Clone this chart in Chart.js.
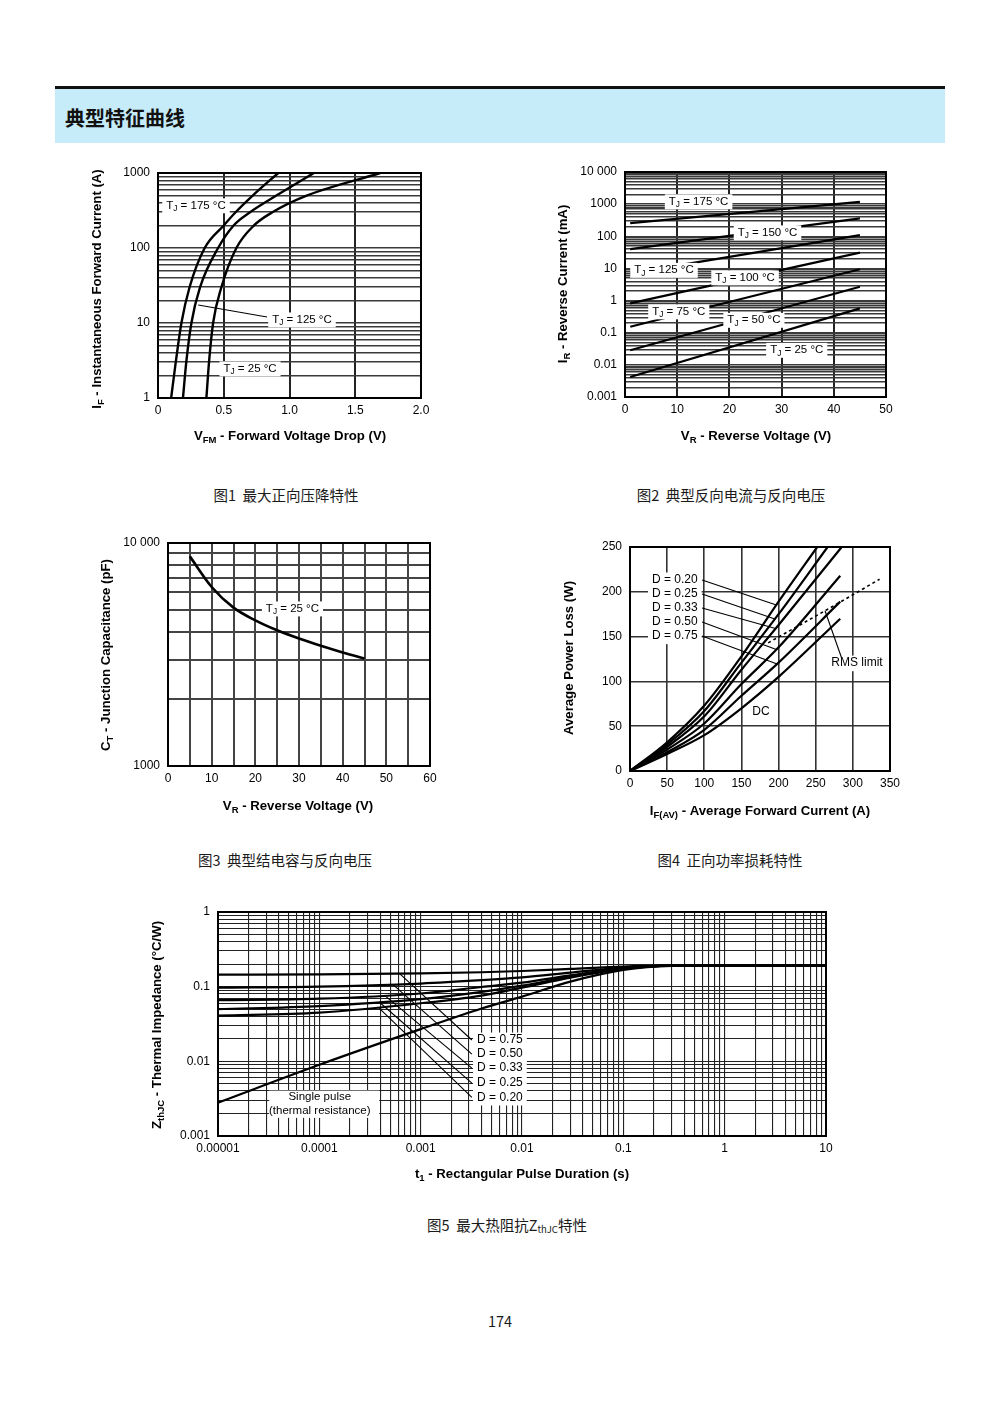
<!DOCTYPE html>
<html>
<head>
<meta charset="utf-8">
<title>典型特征曲线</title>
<script src="https://cdn.jsdelivr.net/npm/chart.js"></script>
<style>
  body { margin: 0; background: #fff; }
  #page { position: relative; width: 1000px; height: 1414px; overflow: hidden; font-family: "Noto Sans CJK SC", sans-serif; color: #1a1a1a; }
  .rule { position: absolute; left: 55px; top: 86px; width: 890px; height: 3px; background: #111; }
  .band { position: absolute; left: 55px; top: 89px; width: 890px; height: 54px; background: #c6ecf9; }
  .band h1 { margin: 0; position: absolute; left: 10px; top: 2px; line-height: 54px; font-size: 20px; font-weight: 700; color: #111; }
  .fig { position: absolute; }
  .cap { position: absolute; font-size: 14.5px; line-height: 20px; transform: translateX(-50%); white-space: pre; }
  .cap sub { font-size: 9.5px; vertical-align: -2px; }
</style>
</head>
<body>
<div id="page">
  <div class="rule"></div>
  <div class="band"><h1>典型特征曲线</h1></div>

  <div class="fig" id="fig1"></div>
  <div class="fig" id="fig2"></div>
  <div class="fig" id="fig3"></div>
  <div class="fig" id="fig4"></div>
  <div class="fig" id="fig5"></div>

  <div class="cap" style="left:286px; top:485px;">图1  最大正向压降特性</div>
  <div class="cap" style="left:731px; top:485px;">图2  典型反向电流与反向电压</div>
  <div class="cap" style="left:285px; top:850px;">图3  典型结电容与反向电压</div>
  <div class="cap" style="left:730px; top:850px;">图4  正向功率损耗特性</div>
  <div class="cap" style="left:507px; top:1215px;">图5  最大热阻抗Z<sub>thJC</sub>特性</div>
  <div class="cap" style="left:500px; top:1311px;">174</div>
</div>

<script>
// ---------------- data ----------------

// Fig.1  forward current (A) vs forward voltage (V)
const ifPts   = [1, 3, 10, 30, 100, 200, 300, 500, 1000];
const vfTj175 = [0.10, 0.135, 0.178, 0.24, 0.355, 0.50, 0.59, 0.72, 0.914];
const vfTj125 = [0.19, 0.215, 0.254, 0.32, 0.457, 0.575, 0.70, 0.90, 1.185];
const vfTj25  = [0.368, 0.388, 0.419, 0.482, 0.596, 0.73, 0.87, 1.13, 1.69];
const fig1XTicks = [0, 0.5, 1, 1.5, 2];
const fig1XLabels = ['0', '0.5', '1.0', '1.5', '2.0'];
const fig1YTicks = [1, 10, 100, 1000];
const fig1YLabels = ['1', '10', '100', '1000'];

// Fig.2  reverse current (mA) vs reverse voltage (V)
const vrPts    = [1, 45];
const irTj175  = [257, 1170];
const irTj150  = [40, 360];
const irTj125  = [7, 109];
const irTj100  = [0.82, 31];
const irTj75   = [0.153, 9.4];
const irTj50   = [0.0286, 2.7];
const irTj25   = [0.0042, 0.57];
const fig2XTicks = [0, 10, 20, 30, 40, 50];
const fig2XLabels = ['0', '10', '20', '30', '40', '50'];
const fig2YTicks = [0.001, 0.01, 0.1, 1, 10, 100, 1000, 10000];
const fig2YLabels = ['0.001', '0.01', '0.1', '1', '10', '100', '1000', '10 000'];

// Fig.3  junction capacitance (pF) vs reverse voltage (V)
const vrCap   = [5, 10, 15, 20, 25, 30, 35, 40, 45];
const ctTj25  = [8710, 6350, 5130, 4500, 4060, 3730, 3460, 3230, 3035];
const fig3XTicks = [0, 10, 20, 30, 40, 50, 60];
const fig3XLabels = ['0', '10', '20', '30', '40', '50', '60'];
const fig3YTicks = [1000, 10000];
const fig3YLabels = ['1000', '10 000'];

// Fig.4  average power loss (W) vs average forward current (A)
const ifavD020 = [0, 50, 100, 150, 200, 252];
const pD020    = [0, 32, 73, 128, 189, 250];
const ifavD025 = [0, 50, 100, 150, 200, 266];
const pD025    = [0, 29.5, 67, 121, 175, 250];
const ifavD033 = [0, 50, 100, 150, 200, 285];
const pD033    = [0, 27, 61, 113, 163, 250];
const ifavD050 = [0, 50, 100, 150, 200, 283];
const pD050    = [0, 24, 53, 97, 138, 218];
const ifavD075 = [0, 50, 100, 150, 200, 283];
const pD075    = [0, 21, 46, 84, 121, 189];
const ifavDC   = [0, 50, 100, 150, 200, 283];
const pDC      = [0, 19, 40, 70, 105, 170];
const ifavRms  = [186, 265, 336];
const pRms     = [143, 180, 214];
const fig4XTicks = [0, 50, 100, 150, 200, 250, 300, 350];
const fig4XLabels = ['0', '50', '100', '150', '200', '250', '300', '350'];
const fig4YTicks = [0, 50, 100, 150, 200, 250];
const fig4YLabels = ['0', '50', '100', '150', '200', '250'];

// Fig.5  transient thermal impedance (°C/W) vs pulse duration (s)
const tPulse  = [1e-5, 1e-4, 1e-3, 4e-3, 1e-2, 3e-2, 0.1, 0.3, 1, 10];
const zSingle = [0.0028, 0.009, 0.027, 0.051, 0.0736, 0.117, 0.168, 0.19, 0.192, 0.192];
const zD075   = [0.145, 0.146, 0.151, 0.156, 0.162, 0.173, 0.186, 0.191, 0.192, 0.192];
const zD050   = [0.097, 0.100, 0.110, 0.122, 0.133, 0.154, 0.180, 0.191, 0.192, 0.192];
const zD033   = [0.066, 0.069, 0.081, 0.099, 0.113, 0.142, 0.176, 0.191, 0.192, 0.192];
const zD025   = [0.050, 0.055, 0.068, 0.085, 0.103, 0.136, 0.174, 0.191, 0.192, 0.192];
const zD020   = [0.041, 0.045, 0.060, 0.076, 0.097, 0.132, 0.173, 0.191, 0.192, 0.192];
const fig5XTicks = [1e-5, 1e-4, 1e-3, 1e-2, 0.1, 1, 10];
const fig5XLabels = ['0.00001', '0.0001', '0.001', '0.01', '0.1', '1', '10'];
const fig5YTicks = [0.001, 0.01, 0.1, 1];
const fig5YLabels = ['0.001', '0.01', '0.1', '1'];

// ---------------- helpers ----------------
const FONT = '"Liberation Sans", Arial, sans-serif';
const YW = 50, XH = 20;   // fixed axis box sizes so the plot areas land where the original has them
const TOPPAD = 16;        // must exceed the y axis' own top padding (half a label + tick padding)

function pts(xs, ys) { return xs.map((x, i) => ({ x: x, y: ys[i] })); }

// gridline positions 1..9 x 10^e for a log axis
function logGrid(e0, e1) {
  const v = [];
  for (let e = e0; e < e1; e++) for (let m = 1; m < 10; m++) v.push(+(m * Math.pow(10, e)).toPrecision(3));
  v.push(+Math.pow(10, e1).toPrecision(3));
  return v;
}
function linGrid(a, b, step) { const v = []; for (let x = a; x <= b + 1e-9; x += step) v.push(x); return v; }

function labeler(vals, texts) {
  return v => {
    const i = vals.findIndex(t => Math.abs(t - v) <= Math.abs(t) * 1e-6 + 1e-12);
    return i < 0 ? '' : texts[i];
  };
}

function interp(xs, ys, x, logX, logY) {
  const fx = logX ? Math.log10 : (v => v);
  const fy = logY ? Math.log10 : (v => v);
  for (let i = 0; i < xs.length - 1; i++) {
    if (x >= xs[i] && x <= xs[i + 1]) {
      const t = (fx(x) - fx(xs[i])) / (fx(xs[i + 1]) - fx(xs[i]));
      const y = fy(ys[i]) + t * (fy(ys[i + 1]) - fy(ys[i]));
      return logY ? Math.pow(10, y) : y;
    }
  }
  return ys[ys.length - 1];
}

// "T_{J} = 25 °C" -> text with subscripts
function parts(str) {
  const out = [], re = /_\{([^}]*)\}/g;
  let last = 0, m;
  while ((m = re.exec(str))) {
    if (m.index > last) out.push({ t: str.slice(last, m.index) });
    out.push({ t: m[1], sub: true });
    last = re.lastIndex;
  }
  if (last < str.length) out.push({ t: str.slice(last) });
  return out;
}
function drawRich(ctx, str, x, y, o) {
  const size = o.size, weight = o.bold ? 'bold ' : '';
  const segs = parts(str);
  let total = 0;
  segs.forEach(s => {
    ctx.font = weight + (s.sub ? size * 0.72 : size) + 'px ' + FONT;
    s.w = ctx.measureText(s.t).width;
    total += s.w;
  });
  let x0 = o.align === 'left' ? x : x - total / 2;
  if (o.box) {
    ctx.fillStyle = '#fff';
    ctx.fillRect(x0 - 4, y - size * 0.62, total + 8, size * 1.3);
  }
  ctx.fillStyle = '#000';
  ctx.textAlign = 'left';
  ctx.textBaseline = 'middle';
  segs.forEach(s => {
    ctx.font = weight + (s.sub ? size * 0.72 : size) + 'px ' + FONT;
    ctx.fillText(s.t, x0, s.sub ? y + size * 0.3 : y);
    x0 += s.w;
  });
}

// frame, axis titles, labels and leader lines
function makeDeco(spec, frame) {
  return {
    id: 'deco',
    afterDatasetsDraw(chart) {
      const ctx = chart.ctx, a = chart.chartArea;
      const sx = chart.scales.x, sy = chart.scales.y;
      const X = v => sx.getPixelForValue(v), Y = v => sy.getPixelForValue(v);
      ctx.save();
      (spec.blanks || []).forEach(b => {   // white patches behind multi-line labels
        ctx.fillStyle = '#fff';
        ctx.fillRect(X(b[0]), Y(b[1]), X(b[2]) - X(b[0]), Y(b[3]) - Y(b[1]));
      });
      (spec.notes || []).forEach(n => {
        drawRich(ctx, n.text, X(n.x), Y(n.y), { size: n.size || 11.5, align: n.align || 'center', box: n.box });
      });
      ctx.strokeStyle = '#000';
      ctx.lineWidth = 1.1;
      (spec.leaders || []).forEach(l => {
        ctx.beginPath();
        ctx.moveTo(X(l[0]), Y(l[1]));
        ctx.lineTo(X(l[2]), Y(l[3]));
        ctx.stroke();
      });
      ctx.lineWidth = 2;
      ctx.strokeRect(a.left, a.top, a.right - a.left, a.bottom - a.top);
      const xt = spec.xTitle, yt = spec.yTitle;
      drawRich(ctx, xt.text, xt.x - frame.x, xt.y - frame.y, { size: 13.2, bold: true });
      ctx.translate(yt.x - frame.x, yt.y - frame.y);
      ctx.rotate(-Math.PI / 2);
      drawRich(ctx, yt.text, 0, 0, { size: 13.2, bold: true });
      ctx.restore();
    }
  };
}

function axis(o) {
  return {
    type: o.type, min: o.min, max: o.max,
    afterFit: s => { if (o.horiz) s.height = XH; else s.width = YW; },
    afterBuildTicks: s => { s.ticks = o.grid.map(v => ({ value: v })); },
    border: { display: false },
    grid: { color: o.gridColor, lineWidth: o.gridWidth, drawTicks: false },
    ticks: {
      autoSkip: false, maxRotation: 0, minRotation: 0,
      padding: o.horiz ? 5 : 8,
      color: '#000', font: { family: FONT, size: 12 },
      callback: labeler(o.tickVals, o.tickText)
    }
  };
}

// plot = wanted plot rectangle on the page; frame = canvas box (left, right, bottom edges)
function makeChart(id, frame, plot, datasets, xAxis, yAxis, spec) {
  frame = { x: frame.x, y: plot.t - TOPPAD, w: frame.w, h: frame.bottom - (plot.t - TOPPAD) };
  const el = document.getElementById(id);
  el.style.left = frame.x + 'px';
  el.style.top = frame.y + 'px';
  el.style.width = frame.w + 'px';
  el.style.height = frame.h + 'px';
  const canvas = document.createElement('canvas');
  el.appendChild(canvas);
  return new Chart(canvas.getContext('2d'), {
    type: 'scatter',
    data: { datasets: datasets.map(d => Object.assign({
      showLine: true, pointRadius: 0, borderColor: '#000', borderWidth: 2.4,
      fill: false, cubicInterpolationMode: 'monotone'
    }, d)) },
    options: {
      responsive: true, maintainAspectRatio: false, animation: false, events: [],
      layout: {
        autoPadding: false,
        padding: {
          left: plot.l - frame.x - YW, top: TOPPAD,
          right: frame.x + frame.w - plot.r, bottom: frame.y + frame.h - plot.b - XH
        }
      },
      plugins: { legend: { display: false }, tooltip: { enabled: false }, title: { display: false } },
      scales: { x: axis(Object.assign({ horiz: true }, xAxis)), y: axis(yAxis) }
    },
    plugins: [makeDeco(spec, frame)]
  });
}

// ---------------- Fig.1 ----------------
makeChart('fig1',
  { x: 80, w: 360, bottom: 460 }, { l: 158, t: 173, r: 421, b: 398 },
  [
    { data: pts(vfTj175, ifPts) },
    { data: pts(vfTj125, ifPts) },
    { data: pts(vfTj25, ifPts) }
  ],
  { type: 'linear', min: 0, max: 2, grid: fig1XTicks, tickVals: fig1XTicks, tickText: fig1XLabels, gridColor: '#222', gridWidth: 2 },
  { type: 'logarithmic', min: 1, max: 1000, grid: logGrid(0, 3), tickVals: fig1YTicks, tickText: fig1YLabels, gridColor: '#3a3a3a', gridWidth: 1.5 },
  {
    xTitle: { text: 'V_{FM} - Forward Voltage Drop (V)', x: 290, y: 436 },
    yTitle: { text: 'I_{F} - Instantaneous Forward Current (A)', x: 97, y: 289 },
    notes: [
      { text: 'T_{J} = 175 °C', x: 0.289, y: 369, box: true },
      { text: 'T_{J} = 125 °C', x: 1.095, y: 11.1, box: true },
      { text: 'T_{J} = 25 °C', x: 0.70, y: 2.47, box: true }
    ],
    leaders: [[0.306, 17.4, 0.829, 12.0]]
  });

// ---------------- Fig.2 ----------------
const straight = { cubicInterpolationMode: 'default', tension: 0, borderWidth: 2.2 };
makeChart('fig2',
  { x: 545, w: 370, bottom: 460 }, { l: 625, t: 172, r: 886, b: 397 },
  [
    Object.assign({ data: pts(vrPts, irTj175) }, straight),
    Object.assign({ data: pts(vrPts, irTj150) }, straight),
    Object.assign({ data: pts(vrPts, irTj125) }, straight),
    Object.assign({ data: pts(vrPts, irTj100) }, straight),
    Object.assign({ data: pts(vrPts, irTj75) }, straight),
    Object.assign({ data: pts(vrPts, irTj50) }, straight),
    Object.assign({ data: pts(vrPts, irTj25) }, straight)
  ],
  { type: 'linear', min: 0, max: 50, grid: fig2XTicks, tickVals: fig2XTicks, tickText: fig2XLabels, gridColor: '#222', gridWidth: 2 },
  { type: 'logarithmic', min: 0.001, max: 10000, grid: logGrid(-3, 4), tickVals: fig2YTicks, tickText: fig2YLabels, gridColor: '#3a3a3a', gridWidth: 1.4 },
  {
    xTitle: { text: 'V_{R} - Reverse Voltage (V)', x: 756, y: 436 },
    yTitle: { text: 'I_{R} - Reverse Current (mA)', x: 563, y: 284 },
    notes: [
      { text: 'T_{J} = 175 °C', x: 14.1, y: 1211, box: true },
      { text: 'T_{J} = 150 °C', x: 27.3, y: 131, box: true },
      { text: 'T_{J} = 125 °C', x: 7.47, y: 8.93, box: true },
      { text: 'T_{J} = 100 °C', x: 23.0, y: 5.22, box: true },
      { text: 'T_{J} = 75 °C', x: 10.3, y: 0.457, box: true },
      { text: 'T_{J} = 50 °C', x: 24.7, y: 0.249, box: true },
      { text: 'T_{J} = 25 °C', x: 32.9, y: 0.029, box: true }
    ]
  });

// ---------------- Fig.3 ----------------
makeChart('fig3',
  { x: 90, w: 360, bottom: 830 }, { l: 168, t: 543, r: 430, b: 766 },
  [ { data: pts(vrCap, ctTj25), borderWidth: 2.6 } ],
  { type: 'linear', min: 0, max: 60, grid: linGrid(0, 60, 5), tickVals: fig3XTicks, tickText: fig3XLabels, gridColor: '#444', gridWidth: 2 },
  { type: 'logarithmic', min: 1000, max: 10000, grid: logGrid(3, 4), tickVals: fig3YTicks, tickText: fig3YLabels, gridColor: '#444', gridWidth: 2 },
  {
    xTitle: { text: 'V_{R} - Reverse Voltage (V)', x: 298, y: 806 },
    yTitle: { text: 'C_{T} - Junction Capacitance (pF)', x: 106, y: 655 },
    notes: [ { text: 'T_{J} = 25 °C', x: 28.5, y: 5080, box: true } ]
  });

// ---------------- Fig.4 ----------------
const dLabelsY = [213.2, 197.5, 181.9, 166.3, 150.7];
makeChart('fig4',
  { x: 550, w: 365, bottom: 835 }, { l: 630, t: 547, r: 890, b: 771 },
  [
    { data: pts(ifavD020, pD020), borderWidth: 2.2 },
    { data: pts(ifavD025, pD025), borderWidth: 2.2 },
    { data: pts(ifavD033, pD033), borderWidth: 2.2 },
    { data: pts(ifavD050, pD050), borderWidth: 2.2 },
    { data: pts(ifavD075, pD075), borderWidth: 2.2 },
    { data: pts(ifavDC, pDC), borderWidth: 2.2 },
    { data: pts(ifavRms, pRms), borderWidth: 1.6, borderDash: [3, 3] }
  ],
  { type: 'linear', min: 0, max: 350, grid: fig4XTicks, tickVals: fig4XTicks, tickText: fig4XLabels, gridColor: '#333', gridWidth: 1.6 },
  { type: 'linear', min: 0, max: 250, grid: fig4YTicks, tickVals: fig4YTicks, tickText: fig4YLabels, gridColor: '#333', gridWidth: 1.6 },
  {
    xTitle: { text: 'I_{F(AV)} - Average Forward Current (A)', x: 760, y: 811 },
    yTitle: { text: 'Average Power Loss (W)', x: 569, y: 658 },
    notes: [
      { text: 'D = 0.20', x: 29.6, y: dLabelsY[0], align: 'left', box: true, size: 12 },
      { text: 'D = 0.25', x: 29.6, y: dLabelsY[1], align: 'left', box: true, size: 12 },
      { text: 'D = 0.33', x: 29.6, y: dLabelsY[2], align: 'left', box: true, size: 12 },
      { text: 'D = 0.50', x: 29.6, y: dLabelsY[3], align: 'left', box: true, size: 12 },
      { text: 'D = 0.75', x: 29.6, y: dLabelsY[4], align: 'left', box: true, size: 12 },
      { text: 'RMS limit', x: 305.6, y: 120.5, box: true, size: 12 },
      { text: 'DC', x: 176.3, y: 65.8, size: 12 }
    ],
    leaders: [
      [97, dLabelsY[0], 197, interp(ifavD020, pD020, 197)],
      [97, dLabelsY[1], 195, interp(ifavD025, pD025, 195)],
      [97, dLabelsY[2], 196, interp(ifavD033, pD033, 196)],
      [97, dLabelsY[3], 197, interp(ifavD050, pD050, 197)],
      [97, dLabelsY[4], 198, interp(ifavD075, pD075, 198)],
      [285, 125.8, 262.5, interp(ifavRms, pRms, 262.5)]
    ]
  });

// ---------------- Fig.5 ----------------
const zLabelsY = [0.0193, 0.0125, 0.0081, 0.0051, 0.0033];
makeChart('fig5',
  { x: 140, w: 710, bottom: 1200 }, { l: 218, t: 912, r: 826, b: 1136 },
  [
    { data: pts(tPulse, zSingle), borderWidth: 2.2 },
    { data: pts(tPulse, zD075), borderWidth: 2.2 },
    { data: pts(tPulse, zD050), borderWidth: 2.2 },
    { data: pts(tPulse, zD033), borderWidth: 2.2 },
    { data: pts(tPulse, zD025), borderWidth: 2.2 },
    { data: pts(tPulse, zD020), borderWidth: 2.2 }
  ],
  { type: 'logarithmic', min: 1e-5, max: 10, grid: logGrid(-5, 1), tickVals: fig5XTicks, tickText: fig5XLabels, gridColor: '#222', gridWidth: 1.1 },
  { type: 'logarithmic', min: 0.001, max: 1, grid: logGrid(-3, 0), tickVals: fig5YTicks, tickText: fig5YLabels, gridColor: '#222', gridWidth: 1.1 },
  {
    xTitle: { text: 't_{1} - Rectangular Pulse Duration (s)', x: 522, y: 1174 },
    yTitle: { text: 'Z_{thJC} - Thermal Impedance (°C/W)', x: 157, y: 1025 },
    blanks: [[3.2e-5, 0.00405, 3.9e-4, 0.00175]],
    notes: [
      { text: 'D = 0.75', x: 3.6e-3, y: zLabelsY[0], align: 'left', box: true, size: 12 },
      { text: 'D = 0.50', x: 3.6e-3, y: zLabelsY[1], align: 'left', box: true, size: 12 },
      { text: 'D = 0.33', x: 3.6e-3, y: zLabelsY[2], align: 'left', box: true, size: 12 },
      { text: 'D = 0.25', x: 3.6e-3, y: zLabelsY[3], align: 'left', box: true, size: 12 },
      { text: 'D = 0.20', x: 3.6e-3, y: zLabelsY[4], align: 'left', box: true, size: 12 },
      { text: '(thermal resistance)', x: 1.01e-4, y: 0.00215 },
      { text: 'Single pulse', x: 1.01e-4, y: 0.00331 }
    ],
    leaders: [
      [6.2e-4, interp(tPulse, zD075, 6.2e-4, true, true), 3.2e-3, zLabelsY[0]],
      [5.3e-4, interp(tPulse, zD050, 5.3e-4, true, true), 3.2e-3, zLabelsY[1]],
      [4.4e-4, interp(tPulse, zD033, 4.4e-4, true, true), 3.2e-3, zLabelsY[2]],
      [3.9e-4, interp(tPulse, zD025, 3.9e-4, true, true), 3.2e-3, zLabelsY[3]],
      [3.8e-4, interp(tPulse, zD020, 3.8e-4, true, true), 3.2e-3, zLabelsY[4]]
    ]
  });
</script>
</body>
</html>
